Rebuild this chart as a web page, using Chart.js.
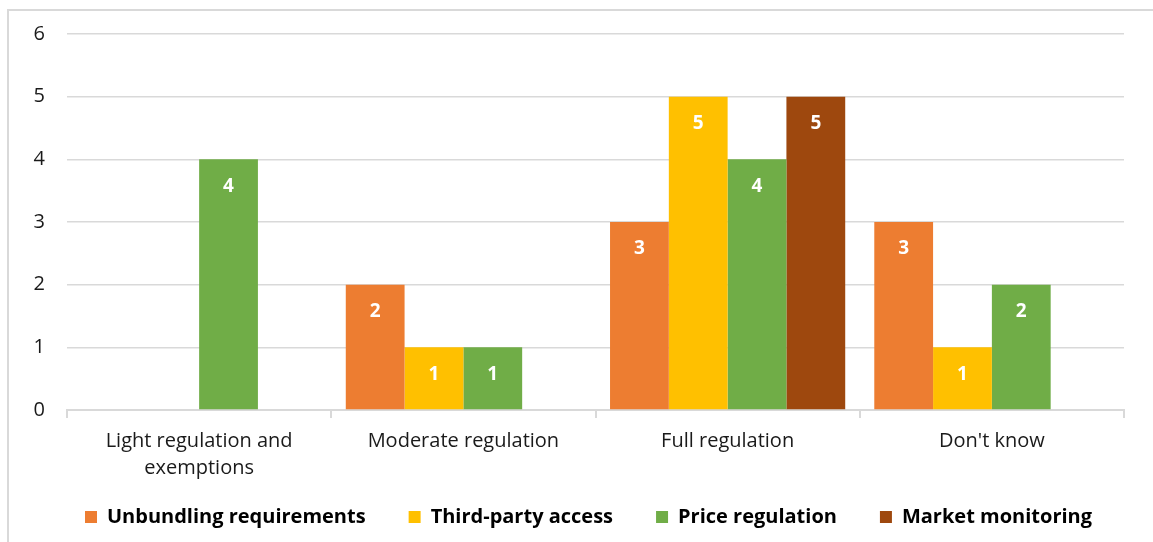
<!DOCTYPE html>
<html>
<head>
<meta charset="utf-8">
<script src="https://cdn.jsdelivr.net/npm/chart.js@4"></script>
<style>
  html, body { margin: 0; padding: 0; background: #fff; }
  #wrap { position: relative; width: 1153px; height: 542px; }
  #frame { position: absolute; left: 7px; top: 9px; right: 0; bottom: 0;
           border-top: 2px solid #d9d9d9; border-left: 2px solid #d9d9d9; }
  canvas { position: absolute; left: 0; top: 0; }
</style>
</head>
<body>
<div id="wrap">
  <div id="frame"></div>
  <canvas id="regChart" width="1153" height="542"></canvas>
</div>
<script>
const categories = [["Light regulation and", "exemptions"], "Moderate regulation", "Full regulation", "Don't know"];
const unbundling = [null, 2, 3, 3];
const thirdParty = [null, 1, 5, 1];
const priceReg = [4, 1, 4, 2];
const monitoring = [null, null, 5, null];
const yTicks = [0, 1, 2, 3, 4, 5, 6];

const font = "'Open Sans', 'Noto Sans', sans-serif";
const ctx = document.getElementById("regChart");

// white numbers inside the bars, near the top
const barLabels = {
    id: "barLabels",
    afterDatasetsDraw(chart) {
        const c = chart.ctx;
        c.save();
        c.fillStyle = "#fff";
        c.font = "bold 19px " + font;
        c.textAlign = "center";
        c.textBaseline = "middle";
        chart.data.datasets.forEach((ds, i) => {
            chart.getDatasetMeta(i).data.forEach((bar, j) => {
                if (ds.data[j] == null) return;
                c.fillText(ds.data[j], bar.x, bar.y + 27);
            });
        });
        c.restore();
    }
};

// category names under the axis (the built-in ones get clipped to the axis box)
const categoryLabels = {
    id: "categoryLabels",
    afterDraw(chart) {
        const c = chart.ctx;
        const xs = chart.scales.x;
        c.save();
        c.fillStyle = "#1a1a1a";
        c.font = "20px " + font;
        c.textAlign = "center";
        c.textBaseline = "middle";
        chart.data.labels.forEach((lbl, i) => {
            const lines = Array.isArray(lbl) ? lbl : [lbl];
            lines.forEach((line, k) => {
                c.fillText(line, xs.getPixelForTick(i), chart.chartArea.bottom + 31 + k * 27);
            });
        });
        c.restore();
    }
};

const regChart = new Chart(ctx, {
    type: "bar",
    data: {
        labels: categories,
        datasets: [
            { label: "Unbundling requirements", data: unbundling, backgroundColor: "#ED7D31" },
            { label: "Third-party access", data: thirdParty, backgroundColor: "#FFC000" },
            { label: "Price regulation", data: priceReg, backgroundColor: "#70AD47" },
            { label: "Market monitoring", data: monitoring, backgroundColor: "#9E480E" },
        ]
    },
    options: {
        responsive: false,
        animation: false,
        categoryPercentage: 0.89,
        barPercentage: 1,
        layout: { padding: { top: 31, right: 0, left: 24, bottom: 5 } },
        plugins: {
            tooltip: { enabled: false },
            legend: {
                position: "bottom",
                labels: {
                    boxWidth: 12,
                    boxHeight: 12,
                    padding: 43,
                    color: "#000",
                    font: { family: font, size: 20, weight: "bold" },
                }
            }
        },
        scales: {
            x: {
                grid: { drawOnChartArea: false, drawTicks: true, tickLength: 8, color: "#d9d9d9", lineWidth: 2 },
                border: { color: "#d9d9d9", width: 2 },
                ticks: { display: false },
                afterFit: (axis) => { axis.height = 54; },
            },
            y: {
                min: 0,
                max: 6,
                afterBuildTicks: (axis) => { axis.ticks = yTicks.map(v => ({ value: v })); },
                grid: { color: "#d9d9d9", lineWidth: 1.5, drawTicks: false },
                border: { display: false },
                ticks: { color: "#1a1a1a", padding: 22, font: { family: font, size: 20 } },
                afterFit: (axis) => { axis.width = 43; },
            },
            // empty right axis, only keeps space on the right of the plot
            yRight: {
                position: "right",
                min: 0,
                max: 6,
                grid: { display: false },
                border: { display: false },
                ticks: { display: false },
                afterFit: (axis) => { axis.width = 29; },
            }
        }
    },
    plugins: [barLabels, categoryLabels]
});
</script>
</body>
</html>
